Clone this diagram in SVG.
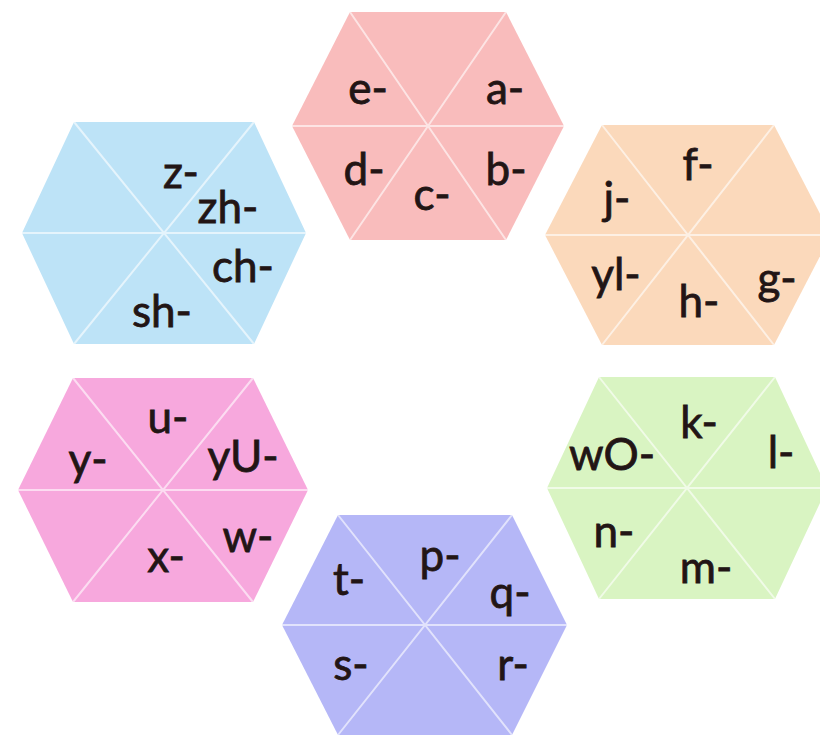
<svg xmlns="http://www.w3.org/2000/svg" width="820" height="738" viewBox="0 0 820 738">
<style>
.div{stroke:#ffffff;stroke-opacity:0.6;stroke-width:2;fill:none}
.lbl{font-family:Lato,"Open Sans","Liberation Sans",sans-serif;font-size:44px;fill:#221515;stroke:#221515;stroke-width:0.8;text-anchor:middle}
</style>
<rect width="820" height="738" fill="#ffffff"/>
<g id="hex-top">
<polygon points="350,12 506,12 564,126 506,240 350,240 292,126" fill="#F9BCBC"/>
<path class="div" d="M292,126H564M350,12L506,240M506,12L350,240"/>
<text class="lbl" x="368" y="104">e-</text>
<text class="lbl" x="505" y="104">a-</text>
<text class="lbl" x="364" y="185">d-</text>
<text class="lbl" x="506" y="185">b-</text>
<text class="lbl" x="432" y="210">c-</text>
</g>
<g id="hex-blue">
<polygon points="74,122 254,122 306,233 254,344 74,344 22,233" fill="#BDE3F7"/>
<path class="div" d="M22,233H306M74,122L254,344M254,122L74,344"/>
<text class="lbl" x="181" y="188">z-</text>
<text class="lbl" x="228" y="223">zh-</text>
<text class="lbl" x="243" y="282">ch-</text>
<text class="lbl" x="162" y="327">sh-</text>
</g>
<g id="hex-orange">
<polygon points="602,125 774,125 831,235 774,345 602,345 545,235" fill="#FBD9BB"/>
<path class="div" d="M545,235H831M602,125L774,345M774,125L602,345"/>
<text class="lbl" x="698" y="180">f-</text>
<text class="lbl" x="617" y="214">j-</text>
<text class="lbl" x="616" y="290">yl-</text>
<text class="lbl" x="699" y="317">h-</text>
<text class="lbl" x="777" y="294">g-</text>
</g>
<g id="hex-pink">
<polygon points="73,378 253,378 308,490 253,602 73,602 18,490" fill="#F7A8DD"/>
<path class="div" d="M18,490H308M73,378L253,602M253,378L73,602"/>
<text class="lbl" x="168" y="433">u-</text>
<text class="lbl" x="88" y="475">y-</text>
<text class="lbl" x="243" y="472">yU-</text>
<text class="lbl" x="248" y="552">w-</text>
<text class="lbl" x="166" y="572">x-</text>
</g>
<g id="hex-green">
<polygon points="599,377 775,377 827,488 775,599 599,599 547,488" fill="#D9F4C2"/>
<path class="div" d="M547,488H827M599,377L775,599M775,377L599,599"/>
<text class="lbl" x="699" y="438">k-</text>
<text class="lbl" x="612" y="470">wO-</text>
<text class="lbl" x="781" y="468">l-</text>
<text class="lbl" x="614" y="547">n-</text>
<text class="lbl" x="706" y="583">m-</text>
</g>
<g id="hex-purple">
<polygon points="338,515 512,515 567,625 512,735 338,735 282,625" fill="#B5B7F7"/>
<path class="div" d="M282,625H567M338,515L512,735M512,515L338,735"/>
<text class="lbl" x="440" y="571">p-</text>
<text class="lbl" x="349" y="595">t-</text>
<text class="lbl" x="510" y="608">q-</text>
<text class="lbl" x="351" y="680">s-</text>
<text class="lbl" x="513" y="680">r-</text>
</g>
</svg>
